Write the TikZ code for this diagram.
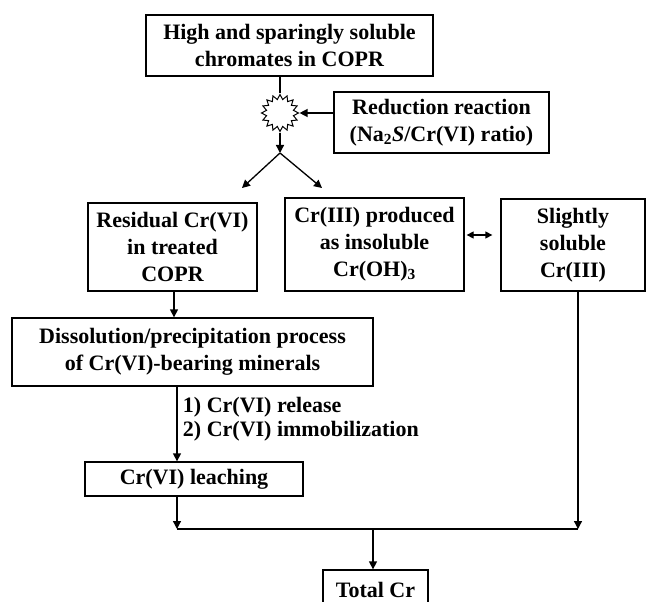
\documentclass[tikz,border=0pt]{standalone}
\usepackage{fontspec}
\setmainfont{Liberation Serif}
\usetikzlibrary{arrows.meta,calc,positioning,shapes.geometric}

\begin{document}
\begin{tikzpicture}[x=1pt,y=-1pt,
    box/.style={draw=black,line width=1.3pt,inner sep=0pt,align=center,
      font=\fontsize{22}{27}\selectfont\bfseries},
    arr/.style={line width=1.3pt,-{Triangle[length=8pt,width=8pt]}},
    lbl/.style={font=\fontsize{22}{24}\selectfont\bfseries,align=left}]
        \clip (0,0) rectangle (649,602);
        % boxes
        \node[box,minimum width=287pt,minimum height=61pt] (top) at (289.5,45.5)
          {High and sparingly soluble\\chromates in COPR};
        \node[draw=black,line width=1pt,star,star points=16,star point ratio=1.35,
          minimum size=37pt,inner sep=0pt] (burst) at (280,113) {};
        \node[box,minimum width=215pt,minimum height=61pt] (reduct) at (441.5,122.5)
          {Reduction reaction\\(Na\textsubscript{2}\textit{S}/Cr(VI) ratio)};
        \node[box,minimum width=169pt,minimum height=88pt] (resid) at (172.5,247)
          {Residual Cr(VI)\\in treated\\COPR};
        \node[box,minimum width=179pt,minimum height=93pt] (insol) at (374.5,244.5)
          {Cr(III) produced\\as insoluble\\Cr(OH)\textsubscript{3}};
        \node[box,minimum width=144pt,minimum height=92pt] (slight) at (573,245)
          {Slightly\\soluble\\Cr(III)};
        \node[box,minimum width=361pt,minimum height=68pt] (dissol) at (192.5,352)
          {Dissolution/precipitation process\\of Cr(VI)-bearing minerals};
        \node[box,minimum width=218pt,minimum height=34pt] (leach) at (194,479)
          {Cr(VI) leaching};
        \node[box,minimum width=105pt,minimum height=40pt] (total) at (375.5,590)
          {Total Cr};
        % helper points
        \coordinate (split) at (280,153);
        \coordinate (join) at (373,529);
        % reduction step
        \draw[line width=1.3pt] (top.south -| burst) -- (burst);
        \draw[arr] (reduct.west |- burst) -- (burst.east);
        \draw[arr] (burst.south) -- (split);
        \draw[arr] (split) -- (242,188);
        \draw[arr] (split) -- (322,188);
        \draw[line width=1.3pt,{Triangle[length=7pt,width=7pt]}-{Triangle[length=7pt,width=7pt]}]
          ([xshift=2pt]insol.east |- 0,235) -- ([xshift=-8pt]slight.west |- 0,235);
        % leaching path
        \draw[arr] (resid.south -| 174,0) -- (dissol.north -| 174,0);
        \draw[arr] (dissol.south -| 177,0) -- (leach.north -| 177,0)
          node[lbl,pos=0.43,anchor=west,xshift=2pt] {1) Cr(VI) release\\2) Cr(VI) immobilization};
        \draw[arr] (leach.south -| 177,0) -- (join -| 177,0);
        \draw[arr] (slight.south -| 578,0) -- (join -| 578,0);
        \draw[line width=1.3pt] (join -| 177,0) -- (join -| 578,0);
        \draw[arr] (join) -- (total.north -| join);
      \end{tikzpicture}
\end{document}
